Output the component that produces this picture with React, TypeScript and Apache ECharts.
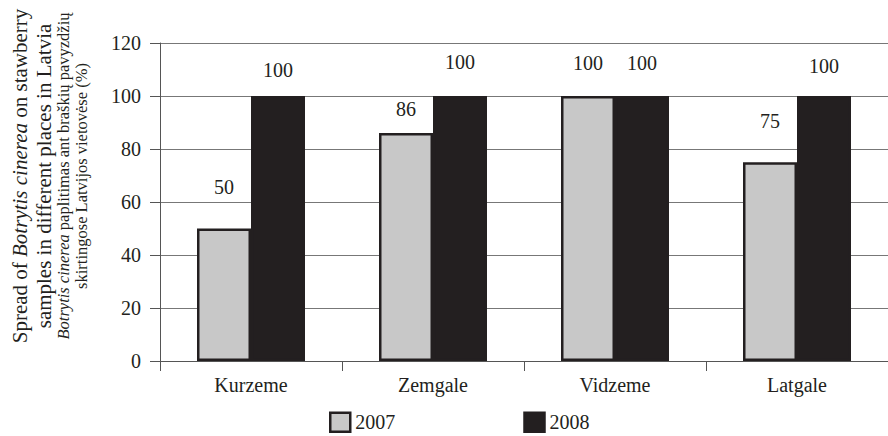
import React, { useEffect, useRef } from "react";
import * as echarts from "echarts";

const categories = ["Kurzeme", "Zemgale", "Vidzeme", "Latgale"];
const values2007 = [50, 86, 100, 75];
const values2008 = [100, 100, 100, 100];
const seriesNames = ["2007", "2008"];
const yTicks = { min: 0, max: 120, interval: 20 };

const FONT = "Liberation Serif";
const INK = "#231f20";

const dist2007 = [32, 14, 23, 31];
const dist2008 = [16, 24, 23, 20];

export default function App() {
  const ref = useRef<HTMLDivElement>(null);
  useEffect(() => {
    if (!ref.current) return;
    const chart = echarts.init(ref.current, undefined, { renderer: "svg" });
    const labelBase = {
      show: true,
      position: "top" as const,
      fontFamily: FONT,
      fontSize: 20,
      color: INK,
    };
    const mk = (vals: number[], d: number[]) =>
      vals.map((v, i) => ({ value: v, label: { ...labelBase, distance: d[i] } }));
    const rot = Math.PI / 2;
    const yNameLines = [
      { x: 20, size: 21, rich: "{n|Spread of }{i|Botrytis cinerea}{n| on stawberry}" },
      { x: 44, size: 21, rich: "{n|samples in different places in Latvia}" },
      { x: 63, size: 16.5, rich: "{i|Botrytis cinerea}{n| paplitimas ant braškių pavyzdžių}" },
      { x: 81, size: 16.5, rich: "{n|skirtingose Latvijos vietovėse (%)}" },
    ];
    chart.setOption({
      animation: false,
      backgroundColor: "#ffffff",
      textStyle: { fontFamily: FONT, color: INK },
      grid: { left: 160, right: 0, top: 43, bottom: 75, containLabel: false },
      legend: {
        bottom: -2,
        left: 324,
        itemWidth: 20,
        itemHeight: 19,
        itemGap: 128,
        icon: "rect",
        itemStyle: { borderColor: INK, borderWidth: 2.5 },
        textStyle: { fontFamily: FONT, fontSize: 20, color: INK, padding: [0, 0, 8, 0] },
        data: seriesNames,
      },
      xAxis: {
        type: "category",
        data: categories,
        boundaryGap: true,
        axisLine: { lineStyle: { color: "#555555", width: 1 } },
        axisTick: { show: true, length: 10, lineStyle: { color: "#555555" } },
        axisLabel: { fontFamily: FONT, fontSize: 20, color: INK, margin: 14 },
      },
      yAxis: {
        type: "value",
        min: yTicks.min,
        max: yTicks.max,
        interval: yTicks.interval,
        axisLine: { show: true, lineStyle: { color: "#555555", width: 1 } },
        axisTick: { show: true, length: 10, lineStyle: { color: "#555555" } },
        axisLabel: { fontFamily: FONT, fontSize: 20, color: INK, margin: 19 },
        splitLine: { show: true, lineStyle: { color: "#777777", width: 1 } },
      },
      graphic: yNameLines.map((l) => ({
        type: "text",
        x: l.x,
        y: 176,
        rotation: rot,
        style: {
          text: l.rich,
          align: "center",
          verticalAlign: "middle",
          fill: INK,
          rich: {
            n: { fontFamily: FONT, fontSize: l.size, fill: INK },
            i: { fontFamily: FONT, fontSize: l.size, fontStyle: "italic", fill: INK },
          },
        },
      })),
      series: [
        {
          name: seriesNames[0],
          type: "bar",
          barWidth: 54,
          barGap: "0%",
          itemStyle: { color: "#c8c8c8", borderColor: INK, borderWidth: 2.5 },
          data: mk(values2007, dist2007),
        },
        {
          name: seriesNames[1],
          type: "bar",
          barWidth: 54,
          barGap: "0%",
          itemStyle: { color: INK, borderColor: INK, borderWidth: 2.5 },
          data: mk(values2008, dist2008),
        },
      ],
    });
    return () => chart.dispose();
  }, []);
  return <div ref={ref} style={{ width: 888, height: 436, position: "absolute", left: 0, top: 0 }} />;
}
